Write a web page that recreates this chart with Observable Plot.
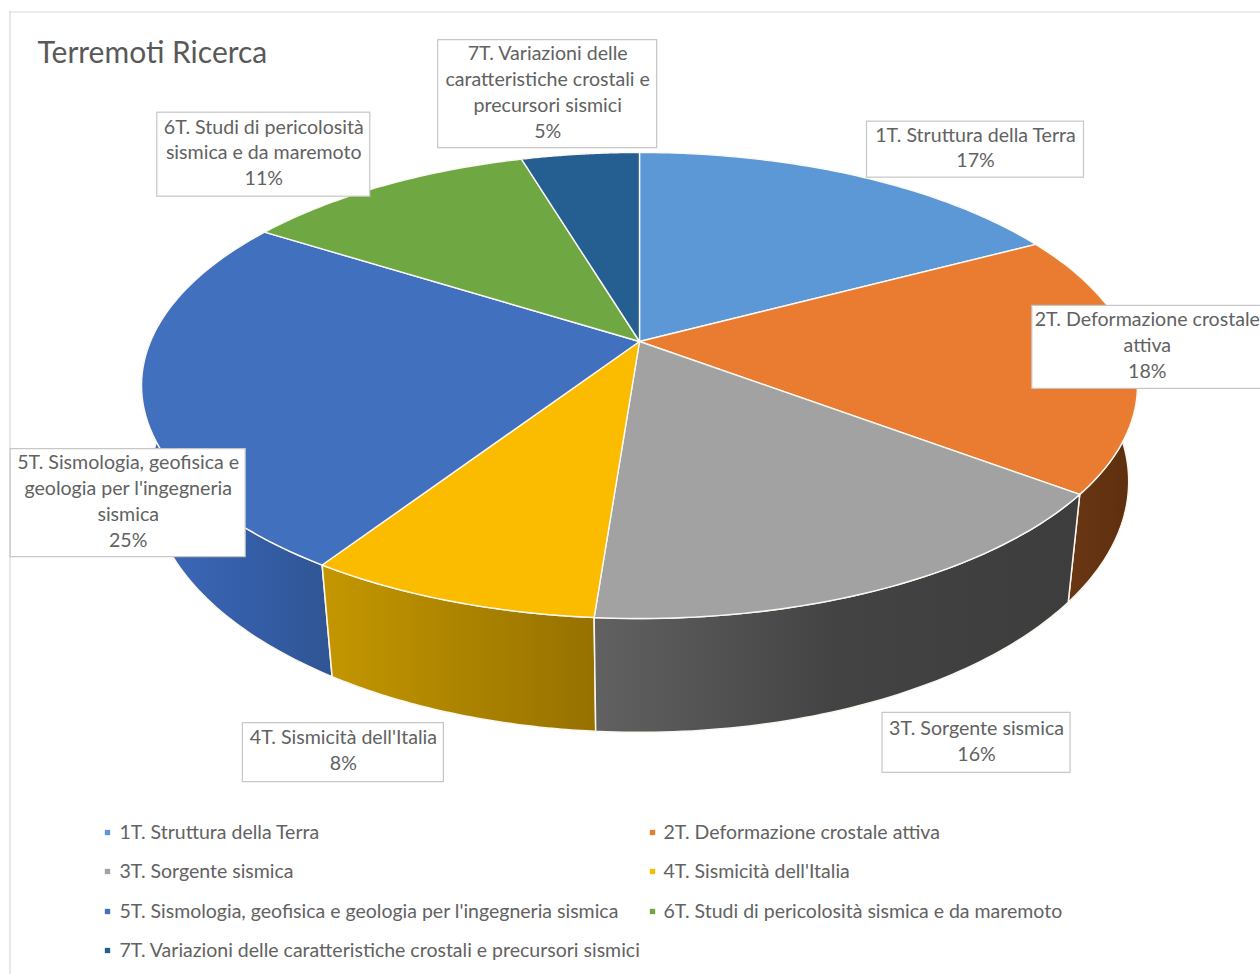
<!DOCTYPE html>
<html>
<head>
<meta charset="utf-8">
<script src="https://cdn.jsdelivr.net/npm/d3@7"></script>
<script src="https://cdn.jsdelivr.net/npm/@observablehq/plot@0.6"></script>
<style>html,body{margin:0;padding:0;background:#fff;overflow:hidden}</style>
</head>
<body>
<div id="chart"></div>
<script>
// DATA
const chartTitle = "Terremoti Ricerca";
const names = [
  "1T. Struttura della Terra",
  "2T. Deformazione crostale attiva",
  "3T. Sorgente sismica",
  "4T. Sismicità dell'Italia",
  "5T. Sismologia, geofisica e geologia per l'ingegneria sismica",
  "6T. Studi di pericolosità sismica e da maremoto",
  "7T. Variazioni delle caratteristiche crostali e precursori sismici"
];
const wrappedNames = [
  "1T. Struttura della Terra",
  "2T. Deformazione crostale\nattiva",
  "3T. Sorgente sismica",
  "4T. Sismicità dell'Italia",
  "5T. Sismologia, geofisica e\ngeologia per l'ingegneria\nsismica",
  "6T. Studi di pericolosità\nsismica e da maremoto",
  "7T. Variazioni delle\ncaratteristiche crostali e\nprecursori sismici"
];
const shares = [17.2, 18.1, 15.9, 8.0, 24.8, 11.4, 4.6];
const colors = ["#5b98d5", "#ea7c31", "#a2a2a2", "#fbbc00", "#4170bf", "#6fa843", "#255e91"];

// LAYOUT (perspective view of the pie, pixels)
const W = 1260, H = 974;
const view = {cx: 639, cy: 341, a: 489, b: 224.7, k: 0.1888};
const base = {a: 482, b: 243.6, k: 0.171, drop: 97};
const labelOffsets = [[119.5,-26],[13,-12],[94,154],[-105,152],[-13.5,112],[-119.5,-31],[-32.5,-60]];
const labelSizes = [[217,56],[230,83],[188,60],[201,59],[235,108],[213,84],[219,108]];
const legendCols = [[107,119],[652,663]];
const legendRows = [832,871,911,950];
const wallArc = [85, 275];
const font = "Lato, 'Open Sans', sans-serif";
const textColor = "#626262";

// GEOMETRY derived from the shares
const rad = Math.PI / 180;
function rim(deg, bottom = false) {
  const X = Math.sin(deg * rad), Y = -Math.cos(deg * rad);
  const p = bottom ? base : view, d = 1 - p.k * Y;
  return [view.cx + p.a * X / d, view.cy + (bottom ? base.drop : 0) + p.b * Y / d];
}
const total = d3.sum(shares);
const ends = d3.cumsum(shares).map(c => c / total * 360);
const starts = ends.map((e, i) => i ? ends[i - 1] : 0);
const arcDegrees = (a0, a1) => d3.range(0, 61).map(i => a0 + (a1 - a0) * i / 60);

const topFaces = names.flatMap((name, i) => [
  {name, x: view.cx, y: view.cy},
  ...arcDegrees(starts[i], ends[i]).map(t => { const [x, y] = rim(t); return {name, x, y}; }),
  {name, x: view.cx, y: view.cy}
]);

const wallFills = {1: "url(#w2)", 2: "url(#w3)", 3: "url(#w4)", 4: "url(#w5)"};
const wallMarks = [1, 4, 3, 2].map(i => {
  const a0 = Math.max(starts[i], wallArc[0]), a1 = Math.min(ends[i], wallArc[1]);
  const arc = arcDegrees(a0, a1);
  const pts = [...arc.map(t => rim(t)), ...arc.slice().reverse().map(t => rim(t, true))];
  pts.push(pts[0]);
  return Plot.line(pts, {x: d => d[0], y: d => d[1], fill: wallFills[i], stroke: "#fbf6ee", strokeWidth: 1.5});
});

const labels = names.map((name, i) => {
  const mid = (starts[i] + ends[i]) / 2, [rx, ry] = rim(mid);
  const x = rx + labelOffsets[i][0], y = ry + labelOffsets[i][1];
  const [w, h] = labelSizes[i];
  return {x, y, x1: x - w / 2, x2: x + w / 2, y1: y - h / 2, y2: y + h / 2,
          text: wrappedNames[i] + "\n" + d3.format(".0f")(shares[i]) + "%"};
});

const legend = names.map((name, i) => ({
  name,
  xs: legendCols[i % 2][0],
  xt: legendCols[i % 2][1],
  y: legendRows[Math.floor(i / 2)]
}));

const plot = Plot.plot({
  width: W, height: H,
  margin: 0,
  style: {background: "#fff", fontFamily: font},
  x: {domain: [0, W], range: [0, W], axis: null},
  y: {domain: [0, H], range: [0, H], axis: null},
  color: {domain: names, range: colors},
  marks: [
    Plot.ruleY([11.5], {x1: 9, x2: W, stroke: "#d9d9d9", strokeWidth: 1.2}),
    Plot.ruleX([9.5], {y1: 11, y2: H, stroke: "#d9d9d9", strokeWidth: 1.2}),
    ...wallMarks,
    Plot.line(topFaces, {x: "x", y: "y", z: "name", fill: "name", stroke: "#fbf8f2", strokeWidth: 1.4, strokeLinejoin: "round"}),
    Plot.rect(labels, {x1: "x1", x2: "x2", y1: "y1", y2: "y2", fill: "#fff", stroke: "#c6c6c6", strokeWidth: 1.2}),
    Plot.text(labels, {x: "x", y: "y", dy: -3.5, text: "text", fontSize: 19.6, lineHeight: 1.32, fill: textColor, lineAnchor: "middle", fontFamily: font}),
    Plot.text([chartTitle], {x: () => 37, y: () => 53, text: d => d, fontSize: 30, textAnchor: "start", fill: "#595959", fontFamily: font}),
    Plot.dot(legend, {x: "xs", y: "y", fill: "name", symbol: "square", r: 3}),
    Plot.text(legend, {x: "xt", y: "y", text: "name", fontSize: 19.5, textAnchor: "start", fill: textColor, fontFamily: font})
  ]
});

// Side-wall shading
const ns = "http://www.w3.org/2000/svg";
const defs = document.createElementNS(ns, "defs");
const grads = {
  w2: [[0, "#6a3714"], [1, "#5c2e0e"]],
  w3: [[0, "#616161"], [0.5, "#434343"], [1, "#3d3d3d"]],
  w4: [[0, "#c49700"], [1, "#967100"]],
  w5: [[0, "#3d6abb"], [0.6, "#345da6"], [1, "#305593"]]
};
for (const [id, stops] of Object.entries(grads)) {
  const g = document.createElementNS(ns, "linearGradient");
  g.setAttribute("id", id);
  for (const [o, c] of stops) {
    const s = document.createElementNS(ns, "stop");
    s.setAttribute("offset", o);
    s.setAttribute("stop-color", c);
    g.appendChild(s);
  }
  defs.appendChild(g);
}
plot.insertBefore(defs, plot.firstChild);
document.getElementById("chart").appendChild(plot);
</script>
</body>
</html>
